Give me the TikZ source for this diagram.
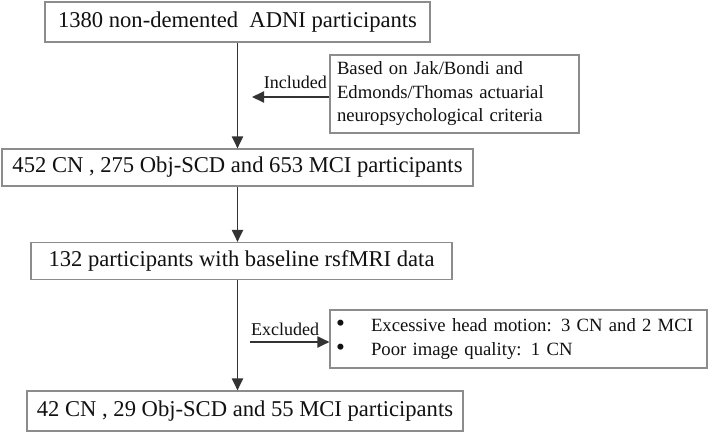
\documentclass[tikz,border=0pt]{standalone}
\usepackage{fontspec}
\setmainfont{Liberation Serif}
\usetikzlibrary{arrows.meta}
\definecolor{boxline}{HTML}{8C8C8C}
\definecolor{arrline}{HTML}{333333}
\definecolor{ink}{HTML}{111111}
\newcommand{\bulletmark}{\makebox[35pt][l]{\raisebox{-0.5pt}{\scalebox{1.35}{•}}}}
\begin{document}
\begin{tikzpicture}[x=1pt,y=-1pt,
  mainbox/.style={draw=boxline, line width=1.1pt, fill=white, text=ink, inner sep=0pt,
    font=\fontsize{22.6}{27}\selectfont},
  sidebox/.style={draw=boxline, line width=1.1pt, fill=white, text=ink, inner ysep=0pt,
    align=left, font=\fontsize{18.7}{23.5}\selectfont},
  lab/.style={text=ink, inner sep=0pt, font=\fontsize{18}{22}\selectfont},
  arr/.style={draw=arrline, line width=1.9pt, -{Triangle[length=12pt,width=11pt]}}]
\useasboundingbox[fill=white] (0,0) rectangle (709,433);

\coordinate (spine) at (237.5,0);

\node[mainbox, minimum width=385pt, minimum height=40pt] (b1) at (237.5,22)
  {1380 non-demented \ ADNI participants};
\node[mainbox, minimum width=471pt, minimum height=37pt] (b2) at (237.5,167.5)
  {452 CN , 275 Obj-SCD and 653 MCI participants};
\node[mainbox, minimum width=421pt, minimum height=37pt] (b3) at (241.5,261)
  {132 participants with baseline rsfMRI data};
\node[mainbox, minimum width=436pt, minimum height=40pt] (b4) at (245,411)
  {42 CN , 29 Obj-SCD and 55 MCI participants};

\node[sidebox, minimum width=249pt, minimum height=78pt, text width=235pt, inner xsep=7pt]
  (info) at (454.5,94)
  {Based on Jak/Bondi and\\Edmonds/Thomas actuarial\\neuropsychological criteria};
\node[sidebox, minimum width=377pt, minimum height=58pt, text width=365pt, inner xsep=6pt,
  font=\fontsize{18.7}{24}\selectfont]
  (excl) at (518.5,339)
  {\bulletmark Excessive head motion: 3 CN and 2 MCI\\
   \bulletmark Poor image quality: 1 CN};

\draw[arr] (b1.south -| spine) -- (b2.north -| spine);
\draw[arr] (b2.south -| spine) -- (b3.north -| spine);
\draw[arr] (b3.south -| spine) -- (b4.north -| spine);

\coordinate (inclend) at (252,97);
\draw[arr] (info.west |- inclend) -- (inclend);
\node[lab, anchor=base east] (incl) at (327,89) {Included};

\coordinate (exclstart) at (250,342);
\draw[arr] (exclstart) -- (excl.west |- exclstart);
\node[lab, anchor=base west] (exlab) at (251,335) {Excluded};
\end{tikzpicture}
\end{document}
